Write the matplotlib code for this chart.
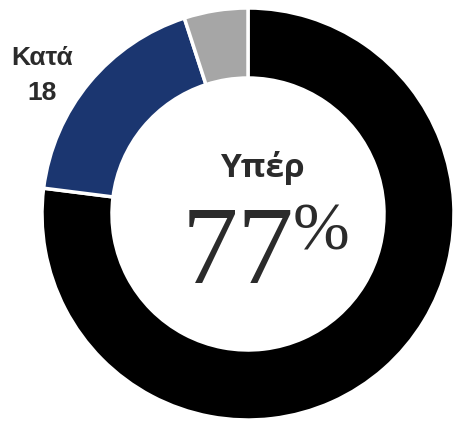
import matplotlib.pyplot as plt

# donut data (clockwise from 12 o'clock)
labels = ['Υπέρ', 'Κατά', 'Άλλο']
values = [77, 18, 5]
colors = ['#000000', '#1b3670', '#a6a6a6']

W, H = 454, 422
fig = plt.figure(figsize=(W / 100, H / 100), dpi=100)
ax = fig.add_axes([0, 0, 1, 1])

cx, cy, r = 248, H - 214, 206
ax.pie(values, colors=colors, startangle=90, counterclock=False,
       center=(cx, cy), radius=r, frame=True,
       wedgeprops=dict(width=70, edgecolor='white', linewidth=2.5))
ax.set_xlim(0, W)
ax.set_ylim(0, H)
ax.set_aspect('equal')
ax.axis('off')

txt = '#2b2b2b'
ax.text(cx + 14, H - 177, labels[0], ha='center', va='baseline',
        fontsize=24, fontweight='bold', color=txt, family=['Open Sans', 'DejaVu Sans'])
ax.text(182, H - 283, '77', ha='left', va='baseline',
        fontsize=81, color=txt, family=['Liberation Serif', 'DejaVu Serif'])
ax.text(293, H - 250, '%', ha='left', va='baseline',
        fontsize=49, color=txt, family=['Liberation Serif', 'DejaVu Serif'])
ax.text(42, H - 65, labels[1], ha='center', va='baseline',
        fontsize=19, fontweight='bold', color=txt,
        family=['Liberation Sans Narrow', 'Liberation Sans'])
ax.text(42, H - 100, str(values[1]), ha='center', va='baseline',
        fontsize=19, fontweight='bold', color=txt,
        family=['Liberation Sans Narrow', 'Liberation Sans'])

fig.savefig('out.png', dpi=100)
